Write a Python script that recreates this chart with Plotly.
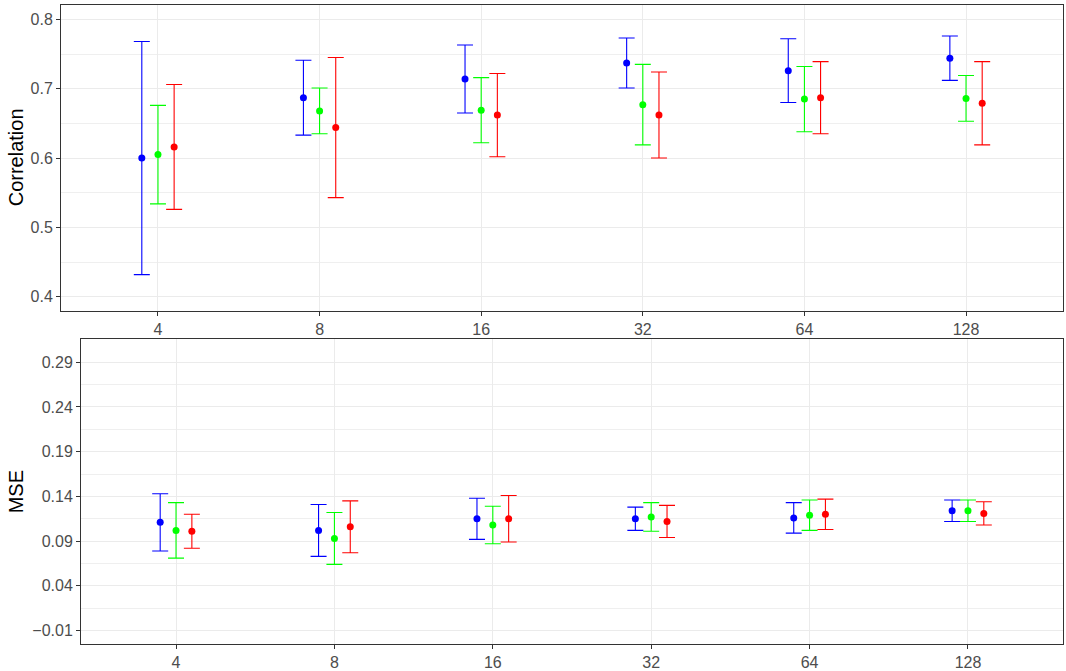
import plotly.graph_objects as go

categories = ["4", "8", "16", "32", "64", "128"]
series_names = ["A", "B", "C"]
series_colors = ["#0000FF", "#00FF00", "#FF0000"]

# Correlation panel: mean, lower, upper per series
corr_mean = [
    [0.600, 0.687, 0.714, 0.737, 0.726, 0.744],
    [0.605, 0.668, 0.669, 0.677, 0.685, 0.686],
    [0.616, 0.644, 0.662, 0.662, 0.687, 0.679],
]
corr_low = [
    [0.432, 0.633, 0.665, 0.701, 0.680, 0.712],
    [0.534, 0.635, 0.622, 0.619, 0.638, 0.653],
    [0.526, 0.543, 0.602, 0.600, 0.635, 0.619],
]
corr_high = [
    [0.768, 0.741, 0.763, 0.773, 0.772, 0.776],
    [0.676, 0.701, 0.716, 0.735, 0.732, 0.719],
    [0.706, 0.745, 0.722, 0.724, 0.739, 0.739],
]

# MSE panel
mse_mean = [
    [0.111, 0.102, 0.115, 0.115, 0.116, 0.124],
    [0.102, 0.093, 0.108, 0.117, 0.119, 0.124],
    [0.101, 0.106, 0.115, 0.112, 0.120, 0.121],
]
mse_low = [
    [0.079, 0.073, 0.092, 0.102, 0.099, 0.112],
    [0.071, 0.064, 0.087, 0.101, 0.102, 0.112],
    [0.082, 0.077, 0.089, 0.094, 0.103, 0.108],
]
mse_high = [
    [0.143, 0.131, 0.138, 0.128, 0.133, 0.136],
    [0.133, 0.122, 0.129, 0.133, 0.136, 0.136],
    [0.120, 0.135, 0.141, 0.130, 0.137, 0.134],
]

dodge = [-0.1, 0.0, 0.1]

W, H = 1066, 671
fig = go.Figure()

def add_panel(means, lows, highs, xa, ya):
    for s in range(3):
        xs = [i + dodge[s] for i in range(len(categories))]
        fig.add_trace(go.Scatter(
            x=xs, y=means[s], mode="markers", name=series_names[s],
            marker=dict(color=series_colors[s], size=7),
            error_y=dict(type="data", symmetric=False,
                         array=[h - m for h, m in zip(highs[s], means[s])],
                         arrayminus=[m - l for m, l in zip(means[s], lows[s])],
                         color=series_colors[s], thickness=1.1, width=8),
            xaxis=xa, yaxis=ya, showlegend=False, hoverinfo="skip"))

add_panel(corr_mean, corr_low, corr_high, "x", "y")
add_panel(mse_mean, mse_low, mse_high, "x2", "y2")

font_fam = "Liberation Sans, Arial, sans-serif"
tickfont = dict(family=font_fam, size=16, color="#4D4D4D")
common_x = dict(range=[-0.6, 5.6], tickvals=list(range(len(categories))), ticktext=categories,
                showgrid=True, gridcolor="#EBEBEB", gridwidth=1, zeroline=False,
                showline=True, linecolor="#333333", linewidth=1, mirror=True,
                ticks="outside", ticklen=4, tickcolor="#333333", tickfont=tickfont)
common_y = dict(showgrid=True, gridcolor="#EBEBEB", gridwidth=1, zeroline=False,
                showline=True, linecolor="#333333", linewidth=1, mirror=True,
                ticks="outside", ticklen=4, tickcolor="#333333", tickfont=tickfont)

fig.update_layout(
    width=W, height=H, margin=dict(l=0, r=0, t=0, b=0),
    plot_bgcolor="white", paper_bgcolor="white",
    xaxis=dict(domain=[61 / W, 1063 / W], anchor="y", **common_x),
    yaxis=dict(domain=[(H - 313) / H, (H - 5.5) / H], anchor="x", range=[0.38, 0.82],
               tick0=0.4, dtick=0.1, tickformat=".1f",
               minor=dict(dtick=0.05, tick0=0.4, showgrid=True, gridcolor="#EFEFEF", gridwidth=0.6, ticks=""),
               **common_y),
    xaxis2=dict(domain=[81 / W, 1063 / W], anchor="y2", **common_x),
    yaxis2=dict(domain=[(H - 649) / H, (H - 342) / H], anchor="x2", range=[-0.0252, 0.3155],
                tick0=-0.01, dtick=0.05, tickformat=".2f",
                minor=dict(dtick=0.025, tick0=-0.01, showgrid=True, gridcolor="#EFEFEF", gridwidth=0.6, ticks=""),
                **common_y),
    annotations=[
        dict(text="Correlation", x=15.5 / W, y=(H - 159) / H, xref="paper", yref="paper",
             xanchor="center", yanchor="middle",
             textangle=-90, showarrow=False, font=dict(family=font_fam, size=20, color="black")),
        dict(text="MSE", x=15.5 / W, y=(H - 495.5) / H, xref="paper", yref="paper",
             xanchor="center", yanchor="middle",
             textangle=-90, showarrow=False, font=dict(family=font_fam, size=20, color="black")),
    ],
)

fig.write_html("out.html", config={"displayModeBar": False},
               post_script="document.body.style.margin='0';document.body.style.padding='0';")
